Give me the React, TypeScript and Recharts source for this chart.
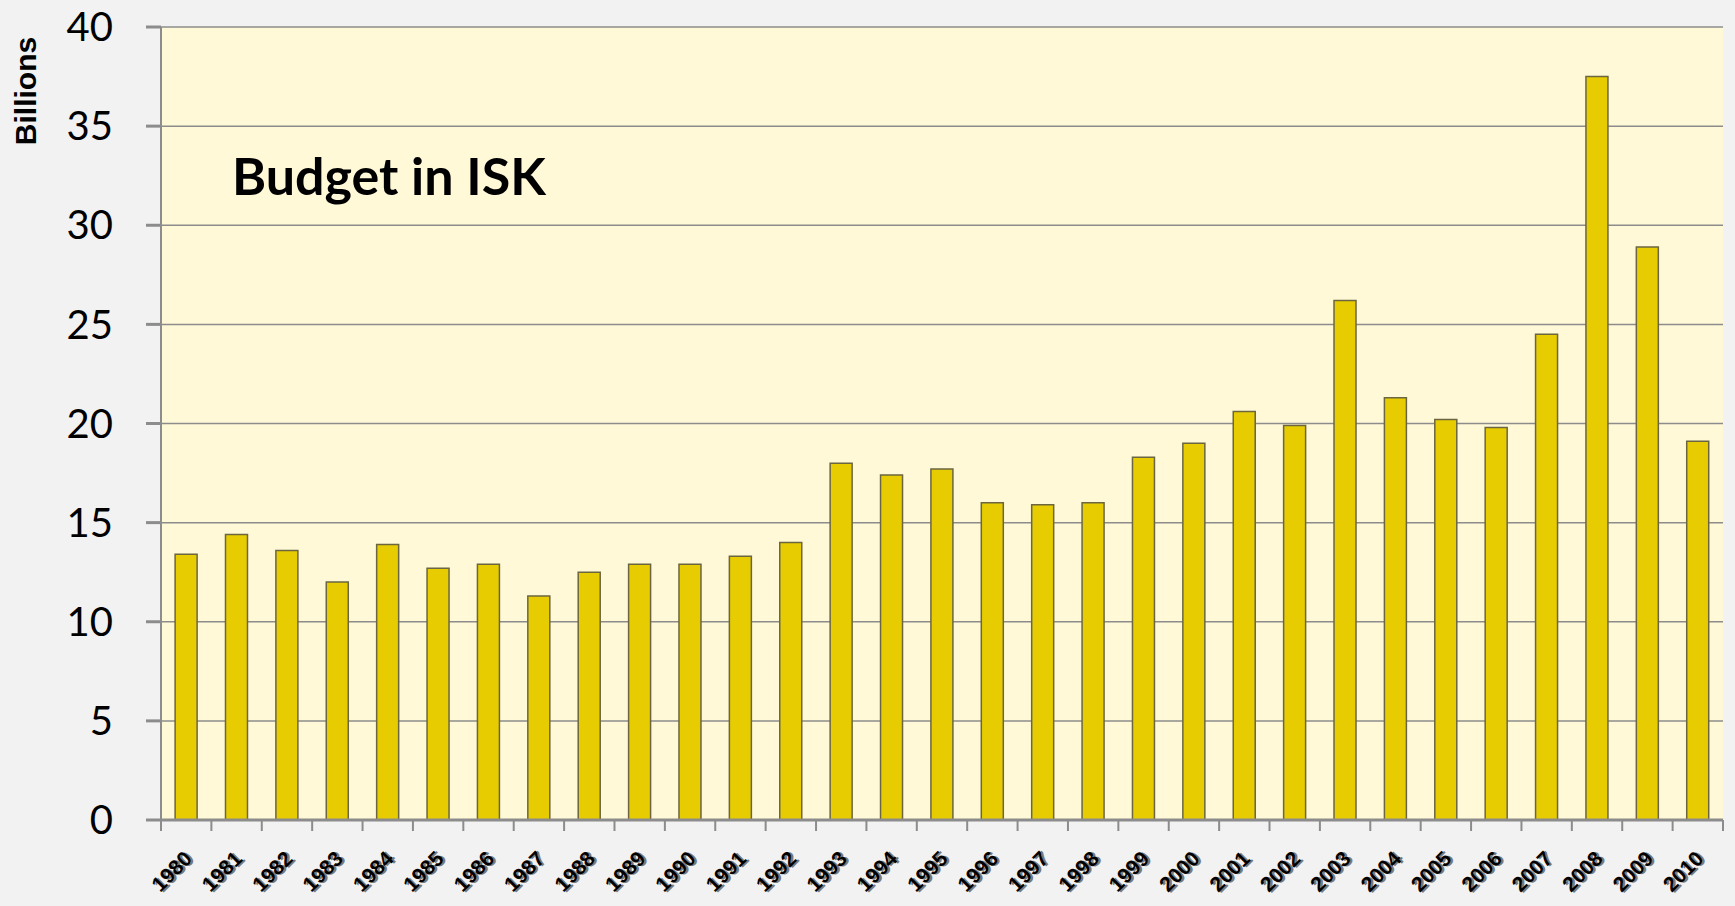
import { BarChart, Bar, XAxis, YAxis, CartesianGrid } from 'recharts';

const years = [
  '1980', '1981', '1982', '1983', '1984', '1985', '1986', '1987', '1988', '1989',
  '1990', '1991', '1992', '1993', '1994', '1995', '1996', '1997', '1998', '1999',
  '2000', '2001', '2002', '2003', '2004', '2005', '2006', '2007', '2008', '2009', '2010',
];
const budget = [
  13.4, 14.4, 13.6, 12.0, 13.9, 12.7, 12.9, 11.3, 12.5, 12.9,
  12.9, 13.3, 14.0, 18.0, 17.4, 17.7, 16.0, 15.9, 16.0, 18.3,
  19.0, 20.6, 19.9, 26.2, 21.3, 20.2, 19.8, 24.5, 37.5, 28.9, 19.1,
];
const yTicks = [0, 5, 10, 15, 20, 25, 30, 35, 40];

const data = years.map((year, i) => ({ year, budget: budget[i] }));

const W = 1735;
const H = 906;
const PLOT_LEFT = 161;
const PLOT_RIGHT = 1723;
const BAND = (PLOT_RIGHT - PLOT_LEFT) / years.length;

function YearTick(props: any) {
  const { x, y, payload, index } = props;
  const half = BAND / 2;
  return (
    <g>
      <line x1={x - half} y1={y} x2={x - half} y2={y + 11} stroke="#8c8c8c" strokeWidth={2} />
      {index === years.length - 1 && (
        <line x1={x + half} y1={y} x2={x + half} y2={y + 11} stroke="#8c8c8c" strokeWidth={2} />
      )}
      <g transform={`translate(${x + 7},${y + 40}) rotate(-45)`}>
        <text x={1.5} y={2} textAnchor="end" fontFamily="Liberation Sans, Arial" fontWeight="bold" fontSize={21} fill="#7a7a7a">
          {payload.value}
        </text>
        <text x={0} y={0} textAnchor="end" fontFamily="Liberation Sans, Arial" fontWeight="bold" fontSize={21} fill="#000">
          {payload.value}
        </text>
      </g>
    </g>
  );
}

export default function App() {
  return (
    <div style={{ position: 'fixed', left: 0, top: 0, width: W, height: H, background: '#f2f2f2' }}>
      <BarChart
        width={W}
        height={H}
        data={data}
        margin={{ top: 27, right: W - PLOT_RIGHT, bottom: 0, left: 0 }}
        barCategoryGap="28%"
      >
        <CartesianGrid vertical={false} fill="#fff9d7" stroke="#8c8c8c" strokeWidth={1.5} />
        <XAxis
          dataKey="year"
          height={86}
          axisLine={{ stroke: '#8c8c8c', strokeWidth: 3 }}
          tickLine={false}
          tickSize={0}
          tickMargin={0}
          interval={0}
          tick={<YearTick />}
        />
        <YAxis
          width={PLOT_LEFT}
          domain={[0, 40]}
          ticks={yTicks}
          interval={0}
          axisLine={{ stroke: '#8c8c8c', strokeWidth: 2 }}
          tickLine={{ stroke: '#8c8c8c', strokeWidth: 3 }}
          tickSize={15}
          tickMargin={33}
          tick={{ fill: '#000', fontSize: 40, fontFamily: 'Lato' }}
        />
        <Bar dataKey="budget" fill="#e6cc00" stroke="#6b6640" strokeWidth={1.5} isAnimationActive={false} />
      </BarChart>
      <svg width={W} height={H} style={{ position: 'absolute', left: 0, top: 0, pointerEvents: 'none' }}>
        <text x={232} y={195} fontFamily="Lato" fontWeight="bold" fontSize={52} fill="#000">
          Budget in ISK
        </text>
        <text
          transform="translate(36,91) rotate(-90)"
          textAnchor="middle"
          fontFamily="Liberation Sans, Arial"
          fontWeight="bold"
          fontSize={30}
          fill="#000"
        >
          Billions
        </text>
      </svg>
    </div>
  );
}
